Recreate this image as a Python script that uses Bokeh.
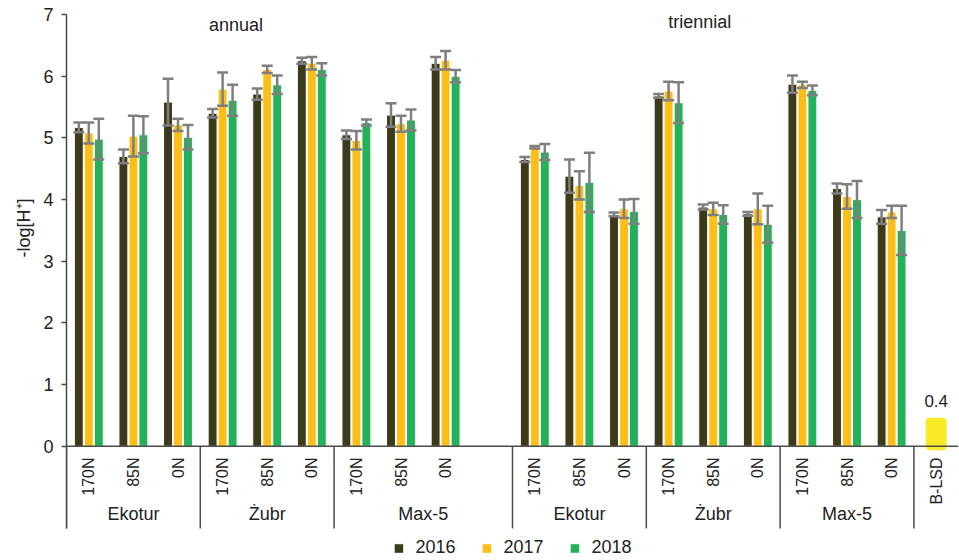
import numpy as np
from math import pi
from bokeh.plotting import figure
from bokeh.models import (ColumnDataSource, FixedTicker, Whisker, TeeHead,
                          Legend, LegendItem, Title)
from bokeh.core.properties import value
from bokeh.embed import file_html
from bokeh.resources import INLINE

# ---- data -------------------------------------------------------------
systems = ["annual", "triennial"]
varieties = ["Ekotur", "Żubr", "Max-5"]
doses = ["170N", "85N", "0N"]
years = ["2016", "2017", "2018"]

# -log[H+] means, ordered system -> variety -> dose
ph_2016 = [5.17, 4.70, 5.58, 5.40, 5.71, 6.25, 5.05, 5.37, 6.21,
           4.65, 4.38, 3.76, 5.68, 3.88, 3.77, 5.87, 4.18, 3.72]
ph_2017 = [5.08, 5.03, 5.21, 5.79, 6.11, 6.21, 4.96, 5.23, 6.26,
           4.85, 4.23, 3.85, 5.76, 3.85, 3.85, 5.86, 4.05, 3.80]
ph_2018 = [4.98, 5.05, 5.01, 5.61, 5.86, 6.11, 5.25, 5.29, 6.00,
           4.77, 4.28, 3.81, 5.57, 3.76, 3.60, 5.77, 4.00, 3.50]

# standard deviations
sd_2016 = [0.08, 0.11, 0.38, 0.07, 0.09, 0.05, 0.07, 0.19, 0.10,
           0.04, 0.27, 0.03, 0.03, 0.04, 0.03, 0.14, 0.08, 0.11]
sd_2017 = [0.17, 0.33, 0.10, 0.27, 0.06, 0.10, 0.15, 0.13, 0.15,
           0.02, 0.23, 0.15, 0.15, 0.10, 0.25, 0.05, 0.20, 0.10]
sd_2018 = [0.33, 0.30, 0.20, 0.25, 0.15, 0.10, 0.05, 0.17, 0.10,
           0.13, 0.48, 0.20, 0.33, 0.15, 0.30, 0.08, 0.30, 0.40]

lsd_label = "B-LSD"
lsd_value = 0.4

# ---- layout of the category axis --------------------------------------
n_dose = len(doses)
n_block = len(varieties) * n_dose          # 9 slots per system
gap = 1                                     # empty slot between systems
slots = np.r_[np.arange(n_block), np.arange(n_block) + n_block + gap]
lsd_slot = slots[-1] + 1
x_lo, x_hi = -0.5, lsd_slot + 0.5
y_lo, y_hi = -1.85, 7          # frame also holds the label rows and legend
y_axis_lo = -1.33              # where the axis line and separators end

colors = {"2016": "#3D3A1B", "2017": "#FDBE18", "2018": "#23B25A"}
lsd_color = "#F8EA24"
axis_color = "#4a4a4a"
err_color = "#7f7f7f"
text_color = "#222222"
font = "Liberation Sans"

p = figure(frame_width=892, frame_height=546,
           x_range=(x_lo, x_hi), y_range=(y_lo, y_hi),
           output_backend="svg", toolbar_location=None,
           min_border_left=66, min_border_right=1, min_border_top=14,
           min_border_bottom=0)
p.outline_line_color = None
p.grid.visible = False
p.xaxis.visible = False

yax = p.yaxis[0]
yax.bounds = (y_axis_lo, y_hi)
yax.ticker = FixedTicker(ticks=list(range(0, 8)))
yax.axis_line_color = axis_color
yax.axis_line_width = 1.5
yax.major_tick_line_color = axis_color
yax.major_tick_line_width = 1.5
yax.major_tick_out = 5
yax.major_tick_in = 0
yax.minor_tick_line_color = None
yax.major_label_text_font = font
yax.major_label_text_font_size = "18px"
yax.major_label_text_color = text_color
yax.major_label_standoff = 8

# y-axis title, set beside the 0-7 value range
p.add_layout(Title(text="-log[H\u207a]", align="left", offset=303,
                   text_font=font, text_font_size="18px",
                   text_font_style="normal", text_color=text_color,
                   standoff=14), "left")

# ---- bars with error whiskers ------------------------------------------
bar_w = 0.2
offsets = [-0.224, 0.0, 0.224]
series = [(years[0], ph_2016, sd_2016), (years[1], ph_2017, sd_2017),
          (years[2], ph_2018, sd_2018)]
legend_items = []
for (yr, vals, sds), off in zip(series, offsets):
    vals = np.asarray(vals)
    sds = np.asarray(sds)
    src = ColumnDataSource(dict(x=slots + off, top=vals,
                                upper=vals + sds, lower=vals - sds))
    r = p.vbar(x="x", top="top", bottom=0, width=bar_w, source=src,
               fill_color=colors[yr], line_color="white", line_width=1)
    legend_items.append(LegendItem(label=yr, renderers=[r]))
    w = Whisker(base="x", upper="upper", lower="lower", source=src,
                line_color=err_color, line_width=2.5, level="annotation",
                upper_head=TeeHead(size=11, line_color=err_color, line_width=2.5),
                lower_head=TeeHead(size=11, line_color=err_color, line_width=2.5))
    p.add_layout(w)

# B-LSD bar with rounded look
lsd_src = ColumnDataSource(dict(x=[lsd_slot], top=[lsd_value],
                                txt=[f"{lsd_value}"]))
p.vbar(x="x", top="top", bottom=0, width=0.29, source=lsd_src,
       fill_color=lsd_color, line_color=lsd_color, line_width=8,
       line_join="round")
p.text(x="x", y="top", text="txt", source=lsd_src, text_align="center",
       text_baseline="bottom", y_offset=-15, text_font=value(font),
       text_font_size="17px", text_color=text_color)

# baseline
p.segment(x0=[x_lo], y0=[0], x1=[x_hi], y1=[0], line_color=axis_color,
          line_width=1.5)

# group separators below the baseline
bounds = [(slots[i * n_dose] - 0.5, slots[i * n_dose] - 0.5 + n_dose)
          for i in range(2 * len(varieties))]
# the last annual group runs up to the gap before the triennial block
bounds[len(varieties) - 1] = (bounds[len(varieties) - 1][0],
                              slots[n_block] - 0.5)
sep_x = sorted({b for pair in bounds for b in pair} | {lsd_slot - 0.5}
               - {x_lo})
p.segment(x0=sep_x, y0=[0] * len(sep_x), x1=sep_x,
          y1=[y_axis_lo] * len(sep_x), line_color=axis_color, line_width=1.5)

# dose labels (rotated) and the B-LSD label
cat_x = list(slots) + [lsd_slot]
cat_txt = doses * (2 * len(varieties)) + [lsd_label]
p.text(x=cat_x, y=[-0.18] * len(cat_x), text=cat_txt, angle=pi / 2,
       text_align="right", text_baseline="middle", text_font=value(font),
       text_font_size="16px", text_color=text_color)

# variety labels centred on their groups
grp_x = [(a + b) / 2 for a, b in bounds]
grp_txt = varieties * 2
p.text(x=grp_x, y=[-1.09] * len(grp_x), text=grp_txt, text_align="center",
       text_baseline="middle", text_font=value(font), text_font_size="18px",
       text_color=text_color)

# system titles
p.text(x=[3.3, 13.7], y=[6.83, 6.88], text=systems, text_align="center",
       text_baseline="middle", text_font=value(font), text_font_size="18px",
       text_color=text_color)

legend = Legend(items=legend_items, orientation="horizontal",
                location="bottom_center", label_text_font=font,
                label_text_font_size="18px", label_text_color=text_color,
                glyph_width=12, glyph_height=12, label_standoff=11,
                spacing=25, padding=0, margin=2, border_line_color=None,
                background_fill_alpha=0)
p.add_layout(legend)

open("out.html", "w").write(file_html(p, INLINE))
